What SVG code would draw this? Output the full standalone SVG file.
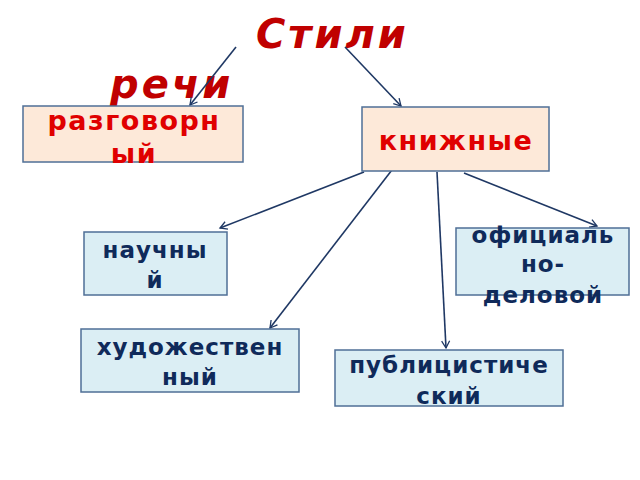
<svg xmlns="http://www.w3.org/2000/svg" width="640" height="480" viewBox="0 0 640 480">
<defs>
<marker id="a" markerWidth="10" markerHeight="10" refX="8" refY="5" orient="auto" markerUnits="userSpaceOnUse"><path d="M1,1 L8,5 L1,9" fill="none" stroke="#1f3864" stroke-width="1.3"/></marker>
<style>
.p{fill:#fde9d9;stroke:#4f6f96;stroke-width:1.5}
.b{fill:#dbeef4;stroke:#4f6f96;stroke-width:1.5}
.r{fill:#e00000;font-family:"DejaVu Sans",sans-serif;font-weight:bold;font-size:27px;letter-spacing:1.5px;text-anchor:middle}
.n{fill:#0f2a5a;font-family:"DejaVu Sans",sans-serif;font-weight:bold;font-size:23px;letter-spacing:1px;text-anchor:middle}
.c line{stroke:#1f3864;stroke-width:1.6;marker-end:url(#a)}
</style>
</defs>
<rect width="640" height="480" fill="#fff"/>
<text font-family="DejaVu Sans,sans-serif" font-weight="bold" font-style="italic" font-size="40" fill="#c00000" letter-spacing="3"><tspan x="256" y="48">Стили</tspan><tspan x="110" y="98">речи</tspan></text>
<g class="c">
<line x1="236" y1="47" x2="190" y2="105"/>
<line x1="345" y1="47" x2="401" y2="106"/>
<line x1="364" y1="172" x2="220" y2="228"/>
<line x1="464" y1="173" x2="597" y2="226"/>
<line x1="395" y1="166" x2="270" y2="328"/>
<line x1="437" y1="172" x2="446" y2="348"/>
</g>
<g id="razg"><rect class="p" x="23" y="106" width="220" height="56"/><text class="r"><tspan x="134" y="130">разговорн</tspan><tspan x="134" y="163">ый</tspan></text></g>
<g id="kn"><rect class="p" x="362" y="107" width="187" height="64"/><text class="r" x="456" y="150">книжные</text></g>
<g id="nauch"><rect class="b" x="84" y="232" width="143" height="63"/><text class="n"><tspan x="155" y="258">научны</tspan><tspan x="155" y="288">й</tspan></text></g>
<g id="ofic"><rect class="b" x="456" y="228" width="173" height="67"/><text class="n"><tspan x="543" y="243">официаль</tspan><tspan x="543" y="272">но-</tspan><tspan x="543" y="303">деловой</tspan></text></g>
<g id="hud"><rect class="b" x="81" y="329" width="218" height="63"/><text class="n"><tspan x="190" y="355">художествен</tspan><tspan x="190" y="385">ный</tspan></text></g>
<g id="publ"><rect class="b" x="335" y="350" width="228" height="56"/><text class="n"><tspan x="449" y="373">публицистиче</tspan><tspan x="449" y="404">ский</tspan></text></g>
</svg>
